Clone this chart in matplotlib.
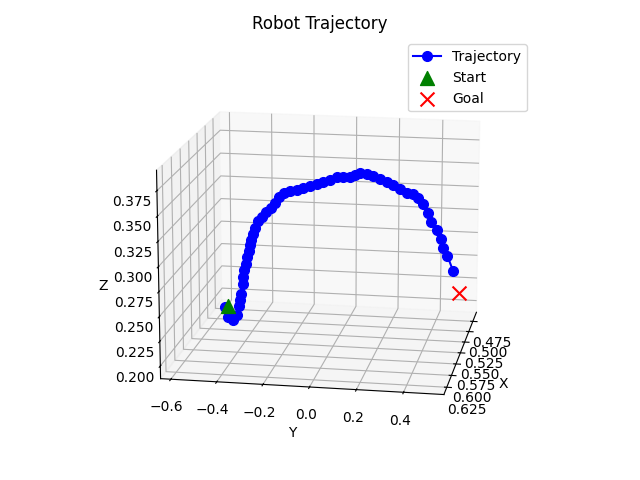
import matplotlib
matplotlib.use("Agg")
import matplotlib.pyplot as plt

traj_x = [0.58,0.578,0.577,0.575,0.574,0.572,0.571,0.569,0.568,0.566,0.565,0.563,0.562,0.56,0.558,0.557,0.555,0.554,0.552,0.551,0.549,0.548,0.546,0.545,0.543,0.542,0.54,0.538,0.537,0.535,0.534,0.532,0.531,0.529,0.528,0.526,0.525,0.523,0.522,0.52,0.518,0.517,0.515,0.514,0.512,0.511,0.509,0.508,0.506,0.505,0.503,0.502,0.5]
traj_y = [-0.449,-0.436,-0.415,-0.399,-0.391,-0.391,-0.386,-0.381,-0.382,-0.378,-0.373,-0.368,-0.362,-0.360,-0.357,-0.352,-0.344,-0.330,-0.317,-0.299,-0.281,-0.262,-0.245,-0.226,-0.201,-0.172,-0.145,-0.117,-0.089,-0.061,-0.032,-0.005,0.024,0.052,0.073,0.093,0.122,0.150,0.179,0.207,0.235,0.264,0.293,0.322,0.343,0.362,0.386,0.399,0.422,0.440,0.451,0.469,0.495]
traj_z = [0.236,0.225,0.222,0.226,0.235,0.241,0.247,0.256,0.263,0.27,0.276,0.282,0.288,0.293,0.298,0.304,0.309,0.316,0.32,0.325,0.329,0.333,0.339,0.343,0.345,0.346,0.347,0.349,0.351,0.353,0.355,0.357,0.357,0.357,0.359,0.36,0.359,0.357,0.353,0.35,0.346,0.342,0.338,0.336,0.332,0.325,0.315,0.306,0.297,0.287,0.277,0.268,0.251]
start = (0.58, -0.434, 0.237)
goal = (0.50, 0.523, 0.228)

fig = plt.figure(figsize=(6.4, 4.8), dpi=100)
ax = fig.add_subplot(111, projection="3d")
ax.plot(traj_x, traj_y, traj_z, color="blue", marker="o", markersize=7, label="Trajectory")
ax.scatter(*start, color="green", marker="^", s=100, label="Start")
ax.scatter(*goal, color="red", marker="x", s=100, label="Goal")
ax.set_xlabel("X")
ax.set_ylabel("Y")
ax.set_zlabel("Z")
ax.set_title("Robot Trajectory")
ax.legend()
ax.set_xlim(0.452, 0.64)
ax.set_ylim(-0.645, 0.57)
ax.set_zlim(0.187, 0.395)
ax.view_init(elev=15, azim=10)
fig.tight_layout()
fig.savefig("out.png", dpi=100)
